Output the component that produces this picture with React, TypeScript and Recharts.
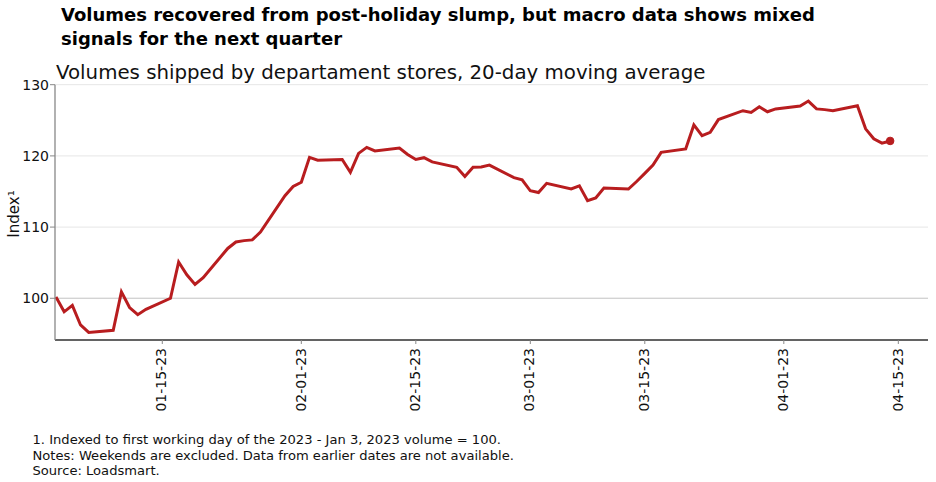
import React from 'react';
import { LineChart, Line, XAxis, YAxis, CartesianGrid, ReferenceLine, ReferenceDot } from 'recharts';

const dates: string[] = [
  '01-02', '01-03', '01-04', '01-05', '01-06',
  '01-09', '01-10', '01-11', '01-12', '01-13',
  '01-16', '01-17', '01-18', '01-19', '01-20',
  '01-23', '01-24', '01-25', '01-26', '01-27',
  '01-30', '01-31', '02-01', '02-02', '02-03',
  '02-06', '02-07', '02-08', '02-09', '02-10',
  '02-13', '02-14', '02-15', '02-16', '02-17',
  '02-20', '02-21', '02-22', '02-23', '02-24',
  '02-27', '02-28', '03-01', '03-02', '03-03',
  '03-06', '03-07', '03-08', '03-09', '03-10',
  '03-13', '03-14', '03-15', '03-16', '03-17',
  '03-20', '03-21', '03-22', '03-23', '03-24',
  '03-27', '03-28', '03-29', '03-30', '03-31',
  '04-03', '04-04', '04-05', '04-06', '04-07',
  '04-10', '04-11', '04-12', '04-13', '04-14',
];

const volumeIndex: number[] = [
  100.2, 98.1, 99.0, 96.25, 95.2,
  95.5, 100.9, 98.7, 97.7, 98.45,
  100.0, 105.1, 103.3, 101.95, 102.9,
  107.0, 107.9, 108.1, 108.2, 109.3,
  114.4, 115.7, 116.3, 119.8, 119.4,
  119.5, 117.7, 120.35, 121.2, 120.7,
  121.1, 120.2, 119.5, 119.75, 119.15,
  118.4, 117.1, 118.4, 118.45, 118.7,
  116.95, 116.65, 115.1, 114.85, 116.15,
  115.35, 115.8, 113.7, 114.1, 115.5,
  115.35, 116.4, 117.55, 118.7, 120.5,
  120.97, 124.35, 122.85, 123.3, 125.1,
  126.35, 126.1, 126.9, 126.2, 126.6,
  127.0, 127.7, 126.6, 126.5, 126.35,
  127.05, 123.8, 122.4, 121.8, 122.1,
];

const xTickLabels: string[] = ['01-15-23', '02-01-23', '02-15-23', '03-01-23', '03-15-23', '04-01-23', '04-15-23'];
const yTicks: number[] = [100, 110, 120, 130];

const titleLines: string[] = [
  'Volumes recovered from post-holiday slump, but macro data shows mixed',
  'signals for the next quarter',
];
const subtitle = 'Volumes shipped by departament stores, 20-day moving average';
const yLabel = 'Index\u00b9';
const footnotes: string[] = [
  '1. Indexed to first working day of the 2023 - Jan 3, 2023 volume = 100.',
  'Notes: Weekends are excluded. Data from earlier dates are not available.',
  'Source: Loadsmart.',
];

const DAY = 86400000;
const dayOf = (mm: number, dd: number) => (Date.UTC(2023, mm - 1, dd) - Date.UTC(2023, 0, 1)) / DAY;
const mdToDay = (s: string) => {
  const [m, d] = s.split('-').map(Number);
  return dayOf(m, d);
};

const data = dates.map((d, i) => ({ day: mdToDay(d), value: volumeIndex[i] }));
const tickDays = xTickLabels.map((t) => mdToDay(t.slice(0, 5)));
const labelByDay: Record<number, string> = {};
tickDays.forEach((d, i) => { labelByDay[d] = xTickLabels[i]; });

const FONT = '"DejaVu Sans", sans-serif';
const RED = '#b81d1f';
const last = data[data.length - 1];

const XTick = (props: any) => {
  const { x, y, payload } = props;
  return (
    <text
      x={x}
      y={y}
      dy="0.3em"
      textAnchor="end"
      transform={`rotate(-90, ${x}, ${y})`}
      fontFamily={FONT}
      fontSize={14}
      fill="#111"
    >
      {labelByDay[payload.value] ?? ''}
    </text>
  );
};

export default function App() {
  return (
    <div style={{ position: 'absolute', left: 0, top: 0, width: 936, height: 482, background: '#fff' }}>
      <LineChart
        width={936}
        height={482}
        data={data}
        margin={{ top: 84.7, right: 8, bottom: 42, left: 0 }}
      >
        <CartesianGrid horizontal vertical={false} stroke="#e6e6e6" strokeWidth={1} />
        <ReferenceLine y={100} stroke="#cccccc" strokeWidth={1} />
        <XAxis
          dataKey="day"
          type="number"
          domain={[0.88, 107.63]}
          ticks={tickDays}
          interval={0}
          height={100}
          tickSize={4}
          tickMargin={4}
          axisLine={{ stroke: '#333', strokeWidth: 1.3 }}
          tickLine={{ stroke: '#888' }}
          tick={<XTick />}
          allowDataOverflow
        />
        <YAxis
          type="number"
          domain={[94.14, 130]}
          ticks={yTicks}
          width={55}
          tickSize={5}
          tickMargin={1}
          axisLine={{ stroke: '#888', strokeWidth: 1.3 }}
          tickLine={{ stroke: '#888' }}
          tick={{ fontFamily: FONT, fontSize: 14, fill: '#111' }}
          allowDataOverflow
        />
        <Line
          type="linear"
          dataKey="value"
          stroke={RED}
          strokeWidth={3}
          dot={false}
          isAnimationActive={false}
        />
        <ReferenceDot x={last.day} y={last.value} r={3.8} fill={RED} stroke={RED} />
      </LineChart>
      <svg width={936} height={482} style={{ position: 'absolute', left: 0, top: 0, pointerEvents: 'none' }}>
        <text x={61} y={21} fontFamily={FONT} fontWeight="bold" fontSize={18} fill="#000">{titleLines[0]}</text>
        <text x={61} y={45} fontFamily={FONT} fontWeight="bold" fontSize={18} fill="#000">{titleLines[1]}</text>
        <text x={56} y={79.3} fontFamily={FONT} fontSize={19.8} fill="#111">{subtitle}</text>
        <text x={0} y={0} transform="translate(19, 214) rotate(-90)" textAnchor="middle" fontFamily={FONT} fontSize={15} fill="#111">{yLabel}</text>
        {footnotes.map((t, i) => (
          <text key={i} x={32.5} y={444 + i * 15.5} fontFamily={FONT} fontSize={13.1} fill="#111">{t}</text>
        ))}
      </svg>
    </div>
  );
}
